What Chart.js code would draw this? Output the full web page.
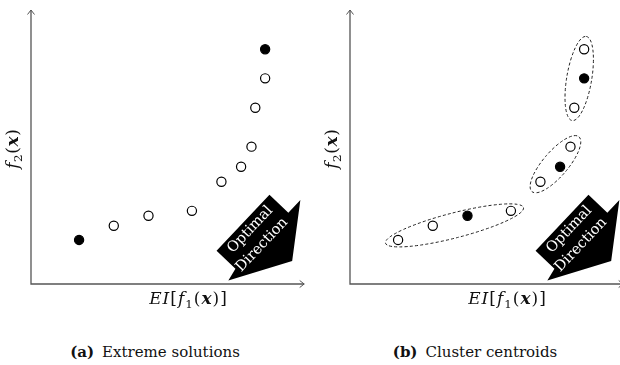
<!DOCTYPE html>
<html>
<head>
<meta charset="utf-8">
<script src="https://cdn.jsdelivr.net/npm/chart.js@4/dist/chart.umd.min.js"></script>
<style>
  html, body { margin: 0; padding: 0; background: #fff; }
  #page { position: relative; width: 620px; height: 365px; overflow: hidden; background: #fff; }
  .panel { position: absolute; top: 0; width: 310px; height: 310px; }
  .caption {
    position: absolute; top: 341px; width: 260px; text-align: center;
    font-family: "DejaVu Serif", "Liberation Serif", "Noto Serif", serif; font-size: 15px; line-height: 22px; color: #111;
    white-space: nowrap;
  }
  .caption b { margin-right: 8px; }
</style>
</head>
<body>
<div id="page">
  <div class="panel" style="left:0px"><canvas id="chartA" width="310" height="310"></canvas></div>
  <div class="panel" style="left:319px"><canvas id="chartB" width="310" height="310"></canvas></div>
  <div class="caption" style="left:25px"><b>(a)</b>Extreme solutions</div>
  <div class="caption" style="left:345px"><b>(b)</b>Cluster centroids</div>
</div>
<script>
// Candidate solutions in objective space (axis range 0..100)
const eiValues = [17.6, 30.3, 43.0, 58.9, 69.7, 76.9, 80.7, 82.1, 85.7, 85.7];
const f2Values = [16.2, 21.4, 25.1, 26.9, 37.6, 43.1, 50.5, 64.8, 75.6, 86.3];

// (a) highlighted extreme solutions
const extremeIdx = [0, 9];
// (b) clusters and their centroids
const clusters = [[0, 1, 2, 3], [4, 5, 6], [7, 8, 9]];
const centroidIdx = [2, 5, 8];

const axisTitleX = [
  { t: 'E', style: 'italic' },
  { t: 'I', style: 'italic' },
  { t: '[', style: '' },
  { t: 'f', style: 'italic' },
  { t: '1', style: '', sub: true },
  { t: '(', style: '' },
  { t: 'x', style: 'italic bold' },
  { t: ')', style: '' },
  { t: ']', style: '' }
];
const axisTitleY = [
  { t: 'f', style: 'italic' },
  { t: '2', style: '', sub: true },
  { t: '(', style: '' },
  { t: 'x', style: 'italic bold' },
  { t: ')', style: '' }
];
const arrowText = ['Optimal', 'Direction'];

const SERIF = '"DejaVu Serif", "Liberation Serif", "Noto Serif", serif';
const INK = '#111';

function partFont(p, size) {
  const s = p.sub ? size * 0.7 : size;
  return `${p.style} ${s}px ${SERIF}`.trim();
}
function richWidth(ctx, parts, size, gap) {
  let w = 0;
  parts.forEach(p => {
    ctx.font = partFont(p, size);
    w += ctx.measureText(p.t).width + gap;
  });
  return w - gap;
}
function drawRich(ctx, parts, size, x, y, gap) {
  const w = richWidth(ctx, parts, size, gap);
  let cx = x - w / 2;
  ctx.textBaseline = 'alphabetic';
  ctx.textAlign = 'left';
  parts.forEach(p => {
    ctx.font = partFont(p, size);
    ctx.fillText(p.t, cx, p.sub ? y + size * 0.22 : y);
    cx += ctx.measureText(p.t).width + gap;
  });
}

// Arrowed axes plus their titles
const axesPlugin = {
  id: 'arrowAxes',
  afterDraw(chart) {
    const { ctx, chartArea: a } = chart;
    ctx.save();
    ctx.strokeStyle = '#555';
    ctx.lineWidth = 1.3;
    ctx.beginPath();
    ctx.moveTo(a.left, a.top - 2);
    ctx.lineTo(a.left, a.bottom);
    ctx.lineTo(a.right, a.bottom);
    ctx.stroke();
    ctx.lineWidth = 1;
    ctx.beginPath();
    ctx.moveTo(a.left - 3.5, a.top + 2.5); ctx.lineTo(a.left, a.top - 2); ctx.lineTo(a.left + 3.5, a.top + 2.5);
    ctx.moveTo(a.right - 4.5, a.bottom - 3.5); ctx.lineTo(a.right, a.bottom); ctx.lineTo(a.right - 4.5, a.bottom + 3.5);
    ctx.stroke();

    ctx.fillStyle = INK;
    drawRich(ctx, axisTitleX, 17, a.left + 157, a.bottom + 20, 1);
    ctx.translate(a.left - 13, a.top + 137);
    ctx.rotate(-Math.PI / 2);
    drawRich(ctx, axisTitleY, 17, 0, 0, 0.6);
    ctx.restore();
  }
};

// Black block arrow with its label
const arrowPlugin = {
  id: 'optimalArrow',
  afterDatasetsDraw(chart) {
    const { ctx, chartArea: a } = chart;
    const cx = a.left + 0.776 * (a.right - a.left);
    const cy = a.top + 0.775 * (a.bottom - a.top);
    ctx.save();
    ctx.translate(cx, cy);
    ctx.rotate(43.4 * Math.PI / 180);
    ctx.fillStyle = '#000';
    ctx.beginPath();
    ctx.moveTo(0, -38.5);
    ctx.lineTo(26, -38.5);
    ctx.lineTo(26, -56);
    ctx.lineTo(62, -6);
    ctx.lineTo(29, 52);
    ctx.lineTo(26, 38.5);
    ctx.lineTo(0, 38.5);
    ctx.closePath();
    ctx.fill();
    ctx.rotate(-Math.PI / 2);
    ctx.fillStyle = '#fff';
    ctx.font = `14.5px ${SERIF}`;
    ctx.textAlign = 'center';
    ctx.textBaseline = 'middle';
    ctx.fillText(arrowText[0], 0, 10);
    ctx.fillText(arrowText[1], -3, 29);
    ctx.restore();
  }
};

// Dashed ellipse around each cluster, spanning its outermost members
const clusterPlugin = {
  id: 'clusterEllipses',
  beforeDatasetsDraw(chart) {
    const groups = chart.options.plugins.clusterEllipses.groups || [];
    const { ctx, scales } = chart;
    ctx.save();
    ctx.strokeStyle = '#222';
    ctx.lineWidth = 1;
    ctx.setLineDash([3, 2.2]);
    groups.forEach(g => {
      const i0 = g[0], i1 = g[g.length - 1];
      const x0 = scales.x.getPixelForValue(eiValues[i0]);
      const y0 = scales.y.getPixelForValue(f2Values[i0]);
      const x1 = scales.x.getPixelForValue(eiValues[i1]);
      const y1 = scales.y.getPixelForValue(f2Values[i1]);
      const mx = (x0 + x1) / 2, my = (y0 + y1) / 2;
      const rot = Math.atan2(y1 - y0, x1 - x0);
      const rx = Math.hypot(x1 - x0, y1 - y0) / 2 + 13;
      ctx.beginPath();
      ctx.ellipse(mx, my, rx, 12.5, rot, 0, Math.PI * 2);
      ctx.stroke();
    });
    ctx.restore();
  }
};

function makeChart(id, filledIdx, groups) {
  const pts = eiValues.map((x, i) => ({ x, y: f2Values[i] }));
  return new Chart(document.getElementById(id), {
    type: 'scatter',
    data: {
      datasets: [{
        data: pts,
        pointRadius: 4.6,
        pointBorderWidth: 1.2,
        pointBorderColor: '#000',
        pointBackgroundColor: ctx => filledIdx.includes(ctx.dataIndex) ? '#000' : '#fff'
      }]
    },
    options: {
      responsive: false,
      animation: false,
      devicePixelRatio: 1,
      layout: { padding: { left: 31, right: 5, top: 12, bottom: 26 } },
      scales: {
        x: { type: 'linear', min: 0, max: 100, display: false },
        y: { type: 'linear', min: 0, max: 100, display: false }
      },
      plugins: {
        legend: { display: false },
        tooltip: { enabled: false },
        clusterEllipses: { groups }
      }
    },
    plugins: [clusterPlugin, arrowPlugin, axesPlugin]
  });
}

makeChart('chartA', extremeIdx, []);
makeChart('chartB', centroidIdx, clusters);
</script>
</body>
</html>
